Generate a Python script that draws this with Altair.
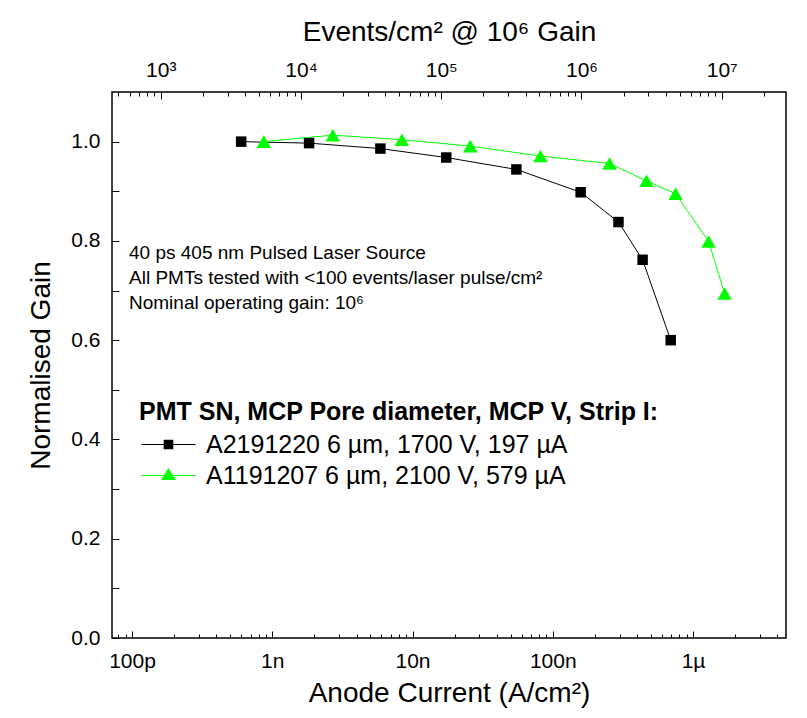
import math
import altair as alt
import pandas as pd

# ---------------- data ----------------
GAIN_CHARGE = 1.602e-13  # coulomb per event at a gain of 10^6

series = ["A2191220 6 µm, 1700 V, 197 µA", "A1191207 6 µm, 2100 V, 579 µA"]
series_colors = ["#000000", "#00ff00"]

black_current = [0.60e-9, 1.83e-9, 5.9e-9, 17.4e-9, 55e-9, 158e-9, 294e-9, 437e-9, 693e-9]
black_gain = [1.000, 0.997, 0.986, 0.968, 0.944, 0.898, 0.838, 0.762, 0.600]
green_current = [0.87e-9, 2.7e-9, 8.4e-9, 25.8e-9, 81.6e-9, 254e-9, 466e-9, 751e-9, 1.29e-6, 1.68e-6]
green_gain = [1.000, 1.013, 1.004, 0.991, 0.971, 0.956, 0.921, 0.895, 0.799, 0.694]

bottom_ticks = [1e-10, 1e-9, 1e-8, 1e-7, 1e-6]
bottom_labels = ["100p", "1n", "10n", "100n", "1µ"]
top_ticks = [1e3, 1e4, 1e5, 1e6, 1e7]
top_labels = ["10³", "10⁴", "10⁵", "10⁶", "10⁷"]
y_ticks = [0.0, 0.2, 0.4, 0.6, 0.8, 1.0]
y_all_ticks = [0.0, 0.1, 0.2, 0.3, 0.4, 0.5, 0.6, 0.7, 0.8, 0.9, 1.0]

annotation_lines = [
    "40 ps 405 nm Pulsed Laser Source",
    "All PMTs tested with <100 events/laser pulse/cm²",
    "Nominal operating gain: 10⁶",
]
legend_title = "PMT SN, MCP Pore diameter, MCP V, Strip I:"
x_title = "Anode Current (A/cm²)"
top_title = "Events/cm² @ 10⁶ Gain"
y_title = "Normalised Gain"

X_DOMAIN = [7.2e-11, 4.6e-6]
EV_DOMAIN = [X_DOMAIN[0] / GAIN_CHARGE, X_DOMAIN[1] / GAIN_CHARGE]
Y_DOMAIN = [0, 1.1]

# ---------------- table ----------------
df = pd.DataFrame(
    {
        "current": black_current + green_current,
        "gain": black_gain + green_gain,
        "series": [series[0]] * len(black_current) + [series[1]] * len(green_current),
    }
)
df["events"] = df["current"] / GAIN_CHARGE


def minor_ticks(lo, hi):
    out = []
    e = math.floor(math.log10(lo))
    while 10 ** e <= hi:
        for k in range(2, 10):
            v = k * 10 ** e
            if lo <= v <= hi:
                out.append(v)
        e += 1
    return out


def label_expr(ticks, labels):
    expr = "'" + labels[-1] + "'"
    for i in range(len(ticks) - 2, -1, -1):
        thr = math.sqrt(ticks[i] * ticks[i + 1])
        expr = f"datum.value < {thr:.6g} ? '{labels[i]}' : ({expr})"
    return expr


W, H = 674, 546
FONT = "Liberation Sans"

xs_cur = alt.Scale(type="log", domain=X_DOMAIN, nice=False)
xs_ev = alt.Scale(type="log", domain=EV_DOMAIN, nice=False)
ys = alt.Scale(domain=Y_DOMAIN, nice=False, zero=False)
color_scale = alt.Scale(domain=series, range=series_colors)

base = alt.Chart(df)

bottom_axis = alt.Axis(
    orient="bottom", values=bottom_ticks, labelExpr=label_expr(bottom_ticks, bottom_labels),
    ticks=False, domain=False, grid=False, labelPadding=12, labelFontSize=21,
    title=x_title, titleFontSize=28, titlePadding=8, labelFlush=False,
)
left_axis = alt.Axis(
    orient="left", values=y_ticks, format=".1f", ticks=False, domain=False, grid=False,
    labelPadding=12, labelFontSize=21, title=y_title, titleFontSize=28, titlePadding=15,
)
top_axis = alt.Axis(
    orient="top", values=top_ticks, labelExpr=label_expr(top_ticks, top_labels),
    ticks=False, domain=False, grid=False, labelPadding=12, labelFontSize=21,
    title=top_title, titleFontSize=28, titlePadding=13, labelFlush=False,
)


def tick_axis(orient, values, size, offset):
    return alt.Axis(
        orient=orient, values=values, tickSize=size, tickWidth=1, tickColor="black",
        labels=False, domain=False, grid=False, title=None, offset=offset,
    )


line = base.mark_line(strokeWidth=1).encode(
    x=alt.X("current:Q", scale=xs_cur, axis=bottom_axis),
    y=alt.Y("gain:Q", scale=ys, axis=left_axis),
    color=alt.Color("series:N", scale=color_scale, legend=None),
)

points = base.mark_point(filled=True, opacity=1).encode(
    x=alt.X("current:Q", scale=xs_cur, axis=None),
    y=alt.Y("gain:Q", scale=ys, axis=None),
    color=alt.Color("series:N", scale=color_scale, legend=None),
    shape=alt.Shape("series:N", scale=alt.Scale(domain=series, range=["square", "triangle-up"]), legend=None),
    size=alt.Size("series:N", scale=alt.Scale(domain=series, range=[110, 210]), legend=None),
)

# legend symbols: 20 px layout box, drawing extends to the right (line stub + marker + line stub)
sq_path = "M-1,-0.05H1.22V0.05H-1Z M1.22,-0.48H2.18V0.48H1.22Z M2.18,-0.05H4.4V0.05H2.18Z"
tri_path = "M-1,-0.05H1.27V0.05H-1Z M1.7,-0.75L2.45,0.45L0.95,0.45Z M2.13,-0.05H4.4V0.05H2.13Z"

legend_def = alt.Legend(
    title=legend_title, orient="none", legendX=27, legendY=308, padding=0,
    titleFontSize=25, titleFontWeight="bold", titleColor="black", titleFont=FONT,
    titleLimit=900, labelLimit=900, labelFontSize=25, labelFont=FONT, labelColor="black",
    labelOffset=42, rowPadding=5, titlePadding=7, symbolSize=400, symbolStrokeWidth=0,
)
legend_layer = base.transform_filter("datum.gain < 0").mark_point(filled=True, opacity=1, size=400).encode(
    x=alt.X("current:Q", scale=xs_cur, axis=None),
    y=alt.Y("gain:Q", scale=ys, axis=None),
    color=alt.Color("series:N", scale=color_scale, legend=legend_def),
    shape=alt.Shape("series:N", scale=alt.Scale(domain=series, range=[sq_path, tri_path]), legend=legend_def),
)

inv = base.mark_point(opacity=0)
bot_major = inv.encode(x=alt.X("current:Q", scale=xs_cur, axis=tick_axis("top", bottom_ticks, 7, -H)))
bot_minor = inv.encode(x=alt.X("current:Q", scale=xs_cur, axis=tick_axis("top", minor_ticks(*X_DOMAIN), 4, -H)))
top_lab = inv.encode(x=alt.X("events:Q", scale=xs_ev, axis=top_axis))
top_major = inv.encode(x=alt.X("events:Q", scale=xs_ev, axis=tick_axis("bottom", top_ticks, 7, -H)))
top_minor = inv.encode(x=alt.X("events:Q", scale=xs_ev, axis=tick_axis("bottom", minor_ticks(*EV_DOMAIN), 4, -H)))
y_tick = inv.encode(y=alt.Y("gain:Q", scale=ys, axis=tick_axis("right", y_all_ticks, 7, -W)))

annot = alt.Chart(pd.DataFrame({"k": [0]})).mark_text(
    text=annotation_lines, align="left", baseline="top", fontSize=19, font=FONT,
    lineHeight=25, color="black",
).encode(x=alt.value(17), y=alt.value(152))

chart = (
    alt.layer(line, points, legend_layer, bot_major, bot_minor, top_lab, top_major, top_minor, y_tick, annot)
    .resolve_scale(x="independent", y="independent", color="independent", shape="independent")
    .resolve_axis(x="independent", y="independent")
    .properties(
        width=W, height=H,
        autosize=alt.AutoSizeParams(type="none"),
        padding={"left": 104, "top": 84, "right": 10, "bottom": 72},
        background="white",
    )
    .configure_view(stroke="black", strokeWidth=1.5)
    .configure_axis(labelFont=FONT, titleFont=FONT, labelColor="black", titleColor="black",
                    titleFontWeight="normal")
)

chart.save("out.html", embed_options={"renderer": "svg", "actions": False})
